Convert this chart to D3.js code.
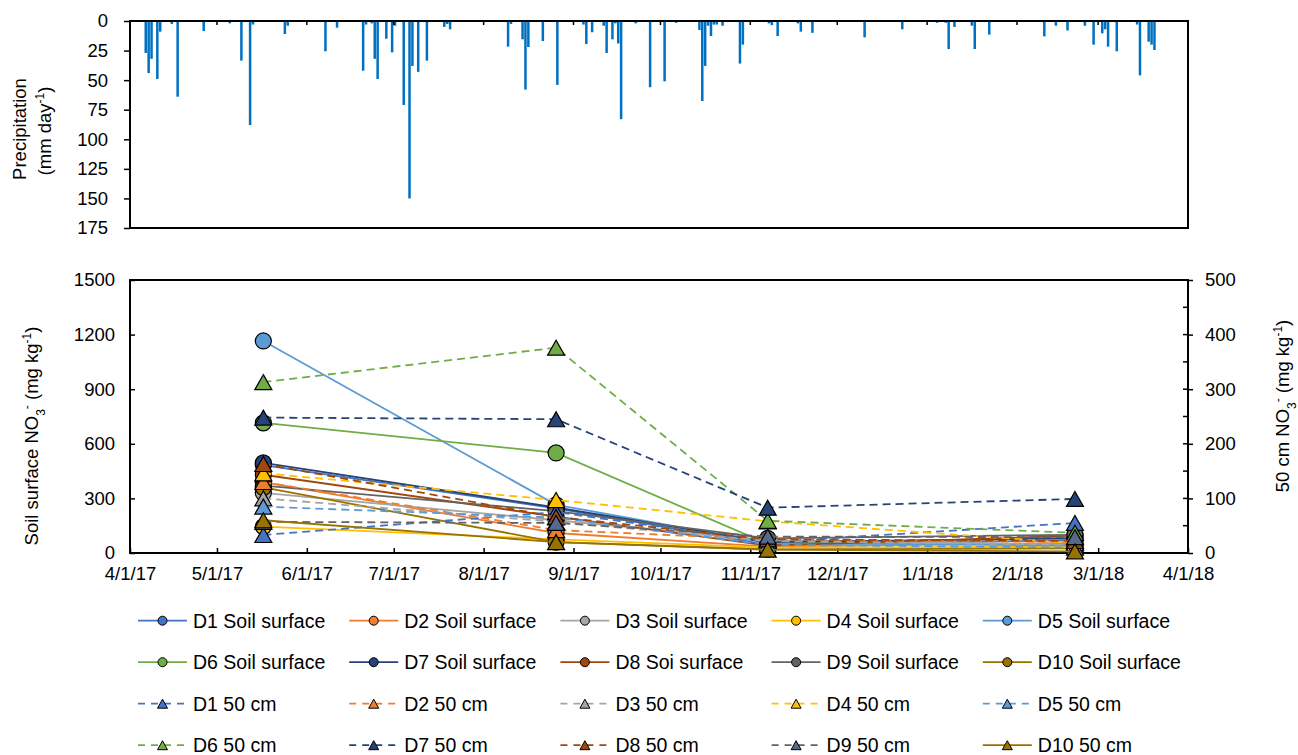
<!DOCTYPE html>
<meta charset="utf-8">
<style>
body { margin: 0; background: #fff; }
svg { font-family: "Liberation Sans", Arial, sans-serif; }
</style>
<svg id="chart" width="1298" height="755"></svg>
<script src="https://d3js.org/d3.v7.min.js"></script>
<script>

// Daily precipitation (mm/day).
var rainDates = [
  "2017-04-06","2017-04-07","2017-04-08","2017-04-10","2017-04-11","2017-04-15","2017-04-17","2017-04-26",
  "2017-05-05","2017-05-09","2017-05-12","2017-05-13","2017-05-24","2017-05-25","2017-06-07","2017-06-11",
  "2017-06-20","2017-06-21","2017-06-23","2017-06-24","2017-06-25","2017-06-28","2017-06-30","2017-07-01",
  "2017-07-04","2017-07-06","2017-07-07","2017-07-09","2017-07-12","2017-07-18","2017-07-19","2017-07-20",
  "2017-08-09","2017-08-10","2017-08-14","2017-08-15","2017-08-16","2017-08-21","2017-08-26","2017-09-04",
  "2017-09-05","2017-09-07","2017-09-11","2017-09-12","2017-09-14","2017-09-15","2017-09-16","2017-09-17",
  "2017-09-22","2017-09-27","2017-10-02","2017-10-06","2017-10-14","2017-10-15","2017-10-16","2017-10-17",
  "2017-10-18","2017-10-19","2017-10-20","2017-10-22","2017-10-28","2017-10-29","2017-11-07","2017-11-08",
  "2017-11-10","2017-11-17","2017-11-18","2017-11-22","2017-12-10","2017-12-23","2018-01-04","2018-01-07",
  "2018-01-08","2018-01-10","2018-01-16","2018-01-17","2018-01-22","2018-02-10","2018-02-14","2018-02-18",
  "2018-02-24","2018-02-27","2018-03-02","2018-03-03","2018-03-04","2018-03-07","2018-03-14","2018-03-15",
  "2018-03-18","2018-03-19","2018-03-20"
];
var rainMm = [
  27, 44, 32, 49, 9, 2.5, 64, 8.5,
  2, 33.5, 88, 3, 11, 4, 25.6, 5.6,
  42, 3, 2, 32, 49, 15, 26.5, 4,
  71, 150, 38, 43, 33.5, 5, 2.5, 7,
  21.7, 2.5, 15.5, 58, 22, 17, 54, 3,
  19.5, 9.5, 4, 27, 15.5, 2, 19, 83,
  2, 56, 51, 1.5, 7.6, 67.6, 38, 4,
  12.7, 3, 3, 4, 36, 20, 2, 3.5,
  12.7, 2, 9, 10, 13.8, 7, 1.5, 1.5,
  23.7, 5, 4, 23.7, 11.5, 13, 4, 8,
  4, 20, 10.4, 7, 21.7, 25.6, 3, 46,
  17.5, 20, 24.5
];

// Sampling dates and NO3- values for sites D1..D10
var sampleDates = ["2017-05-17", "2017-08-26", "2017-11-07", "2018-02-21"];
var sites = ["D1", "D2", "D3", "D4", "D5", "D6", "D7", "D8", "D9", "D10"];
var surfaceNames = ["D1 Soil surface", "D2 Soil surface", "D3 Soil surface", "D4 Soil surface", "D5 Soil surface",
                    "D6 Soil surface", "D7 Soil surface", "D8 Soi surface", "D9 Soil surface", "D10 Soil surface"];
var deepNames = ["D1 50 cm", "D2 50 cm", "D3 50 cm", "D4 50 cm", "D5 50 cm",
                 "D6 50 cm", "D7 50 cm", "D8 50 cm", "D9 50 cm", "D10 50 cm"];

// soil surface NO3- (mg/kg), left axis
var surfaceValues = [
  [483, 245, 45, 70],
  [390, 110, 35, 55],
  [330, 180, 70, 45],
  [145, 75, 30, 35],
  [1165, 265, 55, 40],
  [715, 550, 50, 85],
  [495, 250, 60, 80],
  [430, 200, 40, 95],
  [370, 230, 80, 100],
  [360, 60, 20, 25]
];
// 50 cm NO3- (mg/kg), right axis
var deepValues = [
  [33, 75, 20, 55],
  [130, 42, 25, 20],
  [100, 57, 22, 15],
  [146, 97, 58, 18],
  [85, 65, 15, 10],
  [313, 376, 59, 37],
  [248, 245, 83, 99],
  [163, 66, 25, 22],
  [57, 55, 30, 29],
  [60, 20, 6, 3]
];

var siteColors = ["#4472C4", "#ED7D31", "#A5A5A5", "#FFC000", "#5B9BD5",
                  "#70AD47", "#264478", "#9E480E", "#636363", "#997300"];
var deepFill = ["#4472C4", "#ED7D31", "#A5A5A5", "#FFC000", "#5B9BD5",
                "#70AD47", "#264478", "#9E480E", "#56698C", "#997300"];
var deepDash = [true, true, true, true, true, true, true, true, true, false];

var rainTicks = d3.range(0, 176, 25);
var leftTicks = d3.range(0, 1501, 300);
var rightTicks = d3.range(0, 501, 100);

var parse = d3.timeParse("%Y-%m-%d");
var fmt = d3.timeFormat("%-m/%-d/%y");

var svg = d3.select("#chart");

var x = d3.scaleTime()
    .domain([parse("2017-04-01"), parse("2018-04-01")])
    .range([130, 1188]);
var months = d3.timeMonth.range(parse("2017-04-01"), parse("2018-04-02"));

var yRain = d3.scaleLinear().domain([0, 175]).range([21, 228]);
var yL = d3.scaleLinear().domain([0, 1500]).range([553, 280]);
var yR = d3.scaleLinear().domain([0, 500]).range([553, 280]);

var fontSize = "18.5px";

// ---- precipitation panel ----
var rain = rainDates.map(function(d, i) { return {date: parse(d), mm: rainMm[i]}; });

svg.append("g").selectAll("rect")
  .data(rain)
  .join("rect")
    .attr("x", function(d) { return x(d.date); })
    .attr("y", yRain(0))
    .attr("width", 2.5)
    .attr("height", function(d) { return yRain(d.mm) - yRain(0); })
    .attr("fill", "#0070C0");

svg.append("g").selectAll("line")
  .data(months)
  .join("line")
    .attr("x1", function(d) { return x(d); })
    .attr("x2", function(d) { return x(d); })
    .attr("y1", yRain(0))
    .attr("y2", yRain(0) + 4)
    .attr("stroke", "#000")
    .attr("stroke-width", 1.5);

svg.append("rect")
    .attr("x", 130).attr("y", yRain(0))
    .attr("width", 1058).attr("height", yRain(175) - yRain(0))
    .attr("fill", "none").attr("stroke", "#000").attr("stroke-width", 2);

var rainAxis = svg.append("g")
    .attr("transform", "translate(130,0)")
    .call(d3.axisLeft(yRain).tickValues(rainTicks).tickSize(6).tickPadding(16));
rainAxis.select(".domain").remove();

// ---- NO3 panel ----
svg.append("rect")
    .attr("x", 130).attr("y", 280)
    .attr("width", 1058).attr("height", 273)
    .attr("fill", "none").attr("stroke", "#000").attr("stroke-width", 2);

var leftAxis = svg.append("g")
    .attr("transform", "translate(130,0)")
    .call(d3.axisLeft(yL).tickValues(leftTicks).tickFormat(d3.format("d")).tickSize(-5).tickPadding(15));
leftAxis.select(".domain").remove();

var rightAxis = svg.append("g")
    .attr("transform", "translate(1188,0)")
    .call(d3.axisRight(yR).tickValues(rightTicks).tickFormat(d3.format("d")).tickSize(5).tickPadding(12));
rightAxis.select(".domain").remove();

svg.append("g").selectAll("line")
  .data(d3.range(0, 501, 50))
  .join("line")
    .attr("x1", 1183).attr("x2", 1188)
    .attr("y1", function(d) { return yR(d); })
    .attr("y2", function(d) { return yR(d); })
    .attr("stroke", "#000").attr("stroke-width", 1.5);

var xAxis = svg.append("g")
    .attr("transform", "translate(0,553)")
    .call(d3.axisBottom(x).tickValues(months).tickFormat(fmt).tickSize(-5).tickPadding(14));
xAxis.select(".domain").remove();

svg.selectAll(".tick text").attr("font-size", fontSize).attr("fill", "#000")
    .attr("font-family", "Liberation Sans, Arial, sans-serif");
svg.selectAll(".tick line").attr("stroke-width", 1.5);

// axis titles
function title(tx, ty, parts) {
  var t = svg.append("text")
      .attr("transform", "translate(" + tx + "," + ty + ") rotate(-90)")
      .attr("text-anchor", "middle")
      .attr("font-size", fontSize);
  parts.forEach(function(p) {
    var s = t.append("tspan").text(p[0]);
    if (p[1] === "sub") s.attr("baseline-shift", "sub").attr("font-size", "12px");
    if (p[1] === "sup") s.attr("baseline-shift", "super").attr("font-size", "12px");
  });
}
title(26, 129, [["Precipitation"]]);
title(51, 131, [["(mm day"], ["-1", "sup"], [")"]]);
title(38, 436, [["Soil surface NO"], ["3", "sub"], ["-", "sup"], ["  (mg kg"], ["-1", "sup"], [")"]]);
title(1289, 406, [["50 cm NO"], ["3", "sub"], ["-", "sup"], [" (mg kg"], ["-1", "sup"], [")"]]);

// markers
function triangle(w, h) {
  return "M0," + (-h) + "L" + w + "," + h + "L" + (-w) + "," + h + "Z";
}

var dates = sampleDates.map(parse);
var line = d3.line().x(function(d) { return x(d.date); }).y(function(d) { return d.y; });

var plot = svg.append("g");

// surface series first (primary axis), then the 50 cm series on top
sites.forEach(function(s, i) {
  var pts = surfaceValues[i].map(function(v, j) { return {date: dates[j], y: yL(v)}; });
  var g = plot.append("g");
  g.append("path").datum(pts)
      .attr("d", line).attr("fill", "none")
      .attr("stroke", siteColors[i]).attr("stroke-width", 1.8);
  g.selectAll("circle").data(pts).join("circle")
      .attr("cx", function(d) { return x(d.date); })
      .attr("cy", function(d) { return d.y; })
      .attr("r", 8)
      .attr("fill", siteColors[i]).attr("stroke", "#000").attr("stroke-width", 1.2);
});

sites.forEach(function(s, i) {
  var pts = deepValues[i].map(function(v, j) { return {date: dates[j], y: yR(v)}; });
  var g = plot.append("g");
  g.append("path").datum(pts)
      .attr("d", line).attr("fill", "none")
      .attr("stroke", siteColors[i]).attr("stroke-width", 1.8)
      .attr("stroke-dasharray", deepDash[i] ? "8,5" : null);
  g.selectAll("path.m").data(pts).join("path")
      .attr("class", "m")
      .attr("transform", function(d) { return "translate(" + x(d.date) + "," + d.y + ")"; })
      .attr("d", triangle(8.5, 7.5))
      .attr("fill", deepFill[i]).attr("stroke", "#000").attr("stroke-width", 1.2);
});

// ---- legend ----
var entries = [];
sites.forEach(function(s, i) { entries.push({name: surfaceNames[i], i: i, deep: false}); });
sites.forEach(function(s, i) { entries.push({name: deepNames[i], i: i, deep: true}); });

var legend = svg.append("g").selectAll("g")
  .data(entries)
  .join("g")
    .attr("transform", function(d, k) {
      return "translate(" + (138 + (k % 5) * 211.2) + "," + (620.7 + Math.floor(k / 5) * 41.5) + ")";
    });

legend.append("line")
    .attr("x1", 0).attr("x2", 49).attr("y1", 0).attr("y2", 0)
    .attr("stroke", function(d) { return siteColors[d.i]; })
    .attr("stroke-width", 1.8)
    .attr("stroke-dasharray", function(d) { return d.deep && deepDash[d.i] ? "7,6" : null; });

legend.filter(function(d) { return !d.deep; }).append("circle")
    .attr("cx", 24.5).attr("cy", 0).attr("r", 4.5)
    .attr("fill", function(d) { return siteColors[d.i]; })
    .attr("stroke", "#000").attr("stroke-width", 1);

legend.filter(function(d) { return d.deep; }).append("path")
    .attr("transform", "translate(24.5,0)")
    .attr("d", triangle(5, 4.5))
    .attr("fill", function(d) { return deepFill[d.i]; })
    .attr("stroke", "#000").attr("stroke-width", 1);

legend.append("text")
    .attr("x", 55).attr("dy", "0.35em")
    .attr("font-size", "19.5px")
    .text(function(d) { return d.name; });

</script>
